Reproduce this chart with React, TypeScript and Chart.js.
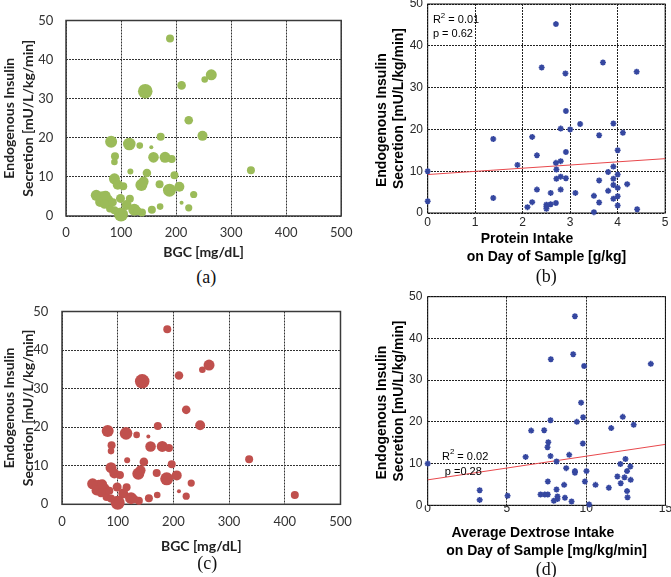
import React, { useEffect, useRef } from "react";
import { Chart, registerables } from "chart.js";
Chart.register(...registerables);

// ---------- Panel (a): BGC vs endogenous insulin secretion (bubble size = third variable)
const bgcA = [189, 144, 210, 252, 264, 223, 248, 172, 82, 115, 134, 155, 89, 88, 159, 180, 192, 336, 117, 147, 197, 88, 94, 104, 137, 141, 170, 188, 206, 232, 210, 223, 171, 156, 55, 66, 75, 62, 72, 80, 99, 116, 110, 124, 138, 100, 88, 130, 70, 85];
const secA = [45.4, 31.9, 33.4, 34.9, 36.1, 24.5, 20.5, 20.3, 19.0, 18.4, 18.0, 17.6, 15.3, 13.8, 15.0, 15.0, 14.6, 11.7, 11.4, 11.0, 10.4, 9.5, 8.0, 7.6, 7.9, 8.8, 8.1, 6.6, 7.5, 5.5, 3.4, 2.1, 2.4, 1.6, 5.3, 4.8, 4.0, 3.6, 5.2, 1.9, 4.5, 4.4, 2.8, 1.6, 0.9, 0.4, 1.5, 1.3, 3.0, 3.5];
const sizeA = [4, 7.3, 4.3, 3.3, 5.5, 4.3, 5, 4, 6, 6.3, 3.3, 2, 4, 3.3, 5.3, 5.5, 4, 4, 3, 4.3, 4, 5.5, 5, 4, 6, 5, 4, 6.5, 5, 3.6, 2, 3.6, 3.3, 4, 5.5, 6, 6, 5, 5, 4, 4.5, 4, 5, 6, 4, 7, 4, 4, 4.5, 4];

// ---------- Panel (c): same data plus one extra sample
const bgcC = [...bgcA, 418];
const secC = [...secA, 2.4];
const sizeC = [...sizeA, 4];

const bgcTicks = { min: 0, max: 500, step: 100 };
const secTicks = { min: 0, max: 50, step: 10 };

// ---------- Panel (b): protein intake
const proteinB = [2.70, 2.40, 2.90, 3.69, 4.40, 2.91, 2.80, 3.0, 3.21, 3.91, 4.11, 3.61, 1.38, 2.20, 2.30, 2.91, 4.0, 1.89, 2.70, 2.80, 2.71, 0, 3.91, 3.80, 4.0, 2.71, 2.80, 2.91, 3.61, 3.91, 4.20, 3.91, 4.0, 2.30, 2.80, 2.59, 3.11, 3.80, 3.50, 4.0, 3.91, 1.38, 0, 2.20, 2.70, 2.59, 3.61, 4.0, 2.10, 2.50, 2.50, 2.50, 3.50, 4.41];
const secB = [45.2, 34.8, 33.4, 36.0, 33.8, 24.4, 20.2, 20.0, 21.3, 21.4, 19.2, 18.6, 17.7, 18.2, 13.8, 14.6, 15.0, 11.5, 12.0, 12.4, 10.4, 10.0, 11.1, 9.8, 9.2, 8.2, 8.7, 8.3, 7.8, 8.2, 6.9, 6.7, 6.0, 5.6, 5.6, 4.8, 4.8, 5.3, 4.1, 4.0, 3.4, 3.6, 2.8, 2.6, 2.4, 2.1, 2.5, 1.8, 1.4, 2.0, 1.5, 1.0, 0.2, 0.9];
const fitBx = [0, 5];
const fitBy = [9.2, 13.0];
const proteinTicks = { min: 0, max: 5, step: 1 };

// ---------- Panel (d): average dextrose intake
const dextroseD = [9.29, 7.77, 9.18, 9.87, 14.08, 9.68, 9.81, 9.41, 7.75, 6.53, 7.35, 12.31, 13.0, 11.58, 7.61, 7.56, 9.79, 6.18, 7.75, 8.93, 8.13, 0, 12.16, 12.48, 8.74, 9.29, 9.29, 10.02, 12.58, 12.79, 11.97, 12.42, 12.81, 12.18, 7.58, 9.92, 8.61, 10.59, 11.43, 8.13, 12.58, 12.61, 3.28, 3.28, 5.04, 7.12, 7.39, 7.58, 8.19, 8.19, 7.96, 8.66, 9.08, 10.19];
const secD = [45.3, 35.0, 36.2, 33.4, 33.9, 24.6, 21.1, 20.0, 20.4, 17.9, 18.0, 21.2, 19.3, 18.5, 15.1, 13.9, 14.8, 11.6, 11.8, 12.1, 10.5, 10.0, 9.9, 11.1, 8.9, 8.2, 7.8, 8.2, 8.2, 9.3, 6.9, 6.7, 6.1, 5.3, 5.7, 5.7, 4.9, 4.9, 4.2, 3.8, 3.4, 1.9, 3.6, 1.3, 2.3, 2.6, 2.6, 2.6, 2.1, 1.5, 1.1, 1.8, 0.9, 0.2];
const fitDx = [0, 15];
const fitDy = [6.1, 14.6];
const dextroseTicks = { min: 0, max: 15, step: 5 };

const yTitleLines = ["Endogenous Insulin", "Secretion [mU/L/kg/min]"];

const ARIAL = "'Liberation Sans', Arial, sans-serif";
const CALIBRI = "Lato, 'Open Sans', sans-serif";

function pts(xs: number[], ys: number[]) {
  return xs.map((x, i) => ({ x, y: ys[i] }));
}

function framePlugin(color: string, width: number) {
  return {
    id: "frame",
    beforeDatasetsDraw(chart: any) {
      const { ctx, chartArea: a } = chart;
      ctx.save();
      ctx.strokeStyle = color;
      ctx.lineWidth = width;
      ctx.strokeRect(a.left, a.top, a.right - a.left, a.bottom - a.top);
      ctx.restore();
    },
  };
}

type Part = { text: string; sup?: boolean };
type StatItem = { x: number; y: number; parts: Part[] };

function statPlugin(items: StatItem[], size: number) {
  return {
    id: "stat",
    afterDatasetsDraw(chart: any) {
      const { ctx } = chart;
      const xs = chart.scales.x;
      const ys = chart.scales.y;
      ctx.save();
      ctx.fillStyle = "#000";
      ctx.textBaseline = "middle";
      ctx.textAlign = "left";
      for (const it of items) {
        let px = xs.getPixelForValue(it.x);
        const py = ys.getPixelForValue(it.y);
        for (const p of it.parts) {
          const s = p.sup ? size * 0.72 : size;
          ctx.font = `${s}px ${ARIAL}`;
          ctx.fillText(p.text, px, p.sup ? py - size * 0.38 : py);
          px += ctx.measureText(p.text).width;
        }
      }
      ctx.restore();
    },
  };
}

type Geo = {
  yWidth: number;
  xHeight: number;
  padTop: number;
  padRight: number;
  yTickPad: number;
  xTickPad: number;
  xTitlePadBottom: number;
};

function axisPair(
  geo: Geo,
  xr: { min: number; max: number; step: number },
  yr: { min: number; max: number; step: number },
  family: string,
  tickSize: number,
  titleSize: number,
  yTitleLH: string,
  xTitleLH: string,
  xTitle: string | string[],
  yTitle: string[],
  gridColor: string,
  tickColor: string,
  titleColor: string
) {
  return {
    x: {
      type: "linear",
      min: xr.min,
      max: xr.max,
      ticks: { stepSize: xr.step, font: { family, size: tickSize }, color: tickColor, padding: geo.xTickPad },
      grid: { color: gridColor, lineWidth: 1, drawTicks: false },
      border: { display: false, dash: [2, 1] },
      title: {
        display: true,
        text: xTitle,
        color: titleColor,
        font: { family, size: titleSize, weight: "bold", lineHeight: xTitleLH },
        padding: { top: 0, bottom: geo.xTitlePadBottom },
      },
      afterFit(s: any) {
        s.height = geo.xHeight;
      },
    },
    y: {
      type: "linear",
      min: yr.min,
      max: yr.max,
      ticks: { stepSize: yr.step, font: { family, size: tickSize }, color: tickColor, padding: geo.yTickPad },
      grid: { color: gridColor, lineWidth: 1, drawTicks: false },
      border: { display: false, dash: [2, 1] },
      title: {
        display: true,
        text: yTitle,
        color: titleColor,
        font: { family, size: titleSize, weight: "bold", lineHeight: yTitleLH },
        padding: { top: 0, bottom: 0 },
      },
      afterFit(s: any) {
        s.width = geo.yWidth;
      },
    },
  };
}

function bubbleConfig(xs: number[], ys: number[], rs: number[], color: string, geo: Geo) {
  return {
    type: "bubble",
    data: {
      datasets: [
        {
          data: xs.map((x, i) => ({ x, y: ys[i], r: rs[i] })),
          backgroundColor: color,
          borderColor: color,
          borderWidth: 0,
          clip: false,
        },
      ],
    },
    options: {
      responsive: false,
      animation: false,
      events: [],
      layout: { padding: { top: geo.padTop, right: geo.padRight, left: 0, bottom: 0 } },
      plugins: { legend: { display: false }, tooltip: { enabled: false } },
      scales: axisPair(geo, bgcTicks, secTicks, CALIBRI, 13, 14, "19px", "19px", "BGC [mg/dL]", yTitleLines, "#333", "#333", "#222"),
    },
    plugins: [framePlugin("#3a3a3a", 1.5)],
  };
}

function scatterConfig(
  xs: number[],
  ys: number[],
  fx: number[],
  fy: number[],
  xr: { min: number; max: number; step: number },
  xTitle: string[],
  xTitleLH: string,
  stats: StatItem[],
  geo: Geo
) {
  const yTitle = ["Endogenous Insulin      ", "Secretion [mU/L/kg/min]"];
  return {
    type: "scatter",
    data: {
      datasets: [
        {
          data: pts(xs, ys),
          pointStyle: "star",
          radius: 3,
          borderWidth: 1.6,
          borderColor: "#3547a0",
          backgroundColor: "#3547a0",
          clip: false,
        },
        {
          data: pts(fx, fy),
          showLine: true,
          pointRadius: 0,
          borderColor: "#e8484c",
          borderWidth: 1,
        },
      ],
    },
    options: {
      responsive: false,
      animation: false,
      events: [],
      layout: { padding: { top: geo.padTop, right: geo.padRight, left: 0, bottom: 0 } },
      plugins: { legend: { display: false }, tooltip: { enabled: false } },
      scales: axisPair(geo, xr, secTicks, ARIAL, 12, 14, "17.3px", xTitleLH, xTitle, yTitle, "#222", "#262626", "#000"),
    },
    plugins: [framePlugin("#111", 1), statPlugin(stats, 11)],
  };
}

function ChartBox(props: { left: number; top: number; width: number; height: number; make: () => any }) {
  const ref = useRef<HTMLCanvasElement>(null);
  useEffect(() => {
    const chart = new Chart(ref.current as HTMLCanvasElement, props.make());
    return () => chart.destroy();
  }, []);
  return (
    <canvas
      ref={ref}
      width={props.width}
      height={props.height}
      style={{ position: "absolute", left: props.left, top: props.top, width: props.width, height: props.height, display: "block" }}
    />
  );
}

function PanelLabel(props: { text: string; cx: number; cy: number }) {
  return (
    <div
      style={{
        position: "absolute",
        left: props.cx - 30,
        top: props.cy - 12,
        width: 60,
        height: 24,
        lineHeight: "24px",
        textAlign: "center",
        fontFamily: "'Liberation Serif', 'Times New Roman', serif",
        fontSize: 18,
        color: "#111",
      }}
    >
      {props.text}
    </div>
  );
}

const geoA: Geo = { yWidth: 66, xHeight: 48, padTop: 11, padRight: 15, yTickPad: 12.7, xTickPad: 9.5, xTitlePadBottom: 2.5 };
const geoC: Geo = { yWidth: 62, xHeight: 53.7, padTop: 11.7, padRight: 15, yTickPad: 13.7, xTickPad: 10.2, xTitlePadBottom: 1.8 };
const geoB: Geo = { yWidth: 54.7, xHeight: 55, padTop: 12, padRight: 5, yTickPad: 4.7, xTickPad: 2.5, xTitlePadBottom: 2.65 };
const geoD: Geo = { yWidth: 54.7, xHeight: 56.7, padTop: 14.7, padRight: 5, yTickPad: 5.4, xTickPad: -4.2, xTitlePadBottom: 2.3 };

export default function App() {
  return (
    <div style={{ position: "absolute", left: 0, top: 0, width: 671, height: 577, overflow: "hidden", background: "#fff" }}>
      <ChartBox left={0} top={0} width={362} height={264} make={() => bubbleConfig(bgcA, secA, sizeA, "#9bbb59", geoA)} />
      <ChartBox
        left={373}
        top={-8}
        width={298}
        height={276}
        make={() =>
          scatterConfig(
            proteinB,
            secB,
            fitBx,
            fitBy,
            proteinTicks,
            ["Protein Intake          ", "on Day of Sample [g/kg]"],
            "17.3px",
            [
              { x: 0.11, y: 46.2, parts: [{ text: "R" }, { text: "2", sup: true }, { text: " = 0.01" }] },
              { x: 0.11, y: 42.9, parts: [{ text: "p = 0.62" }] },
            ],
            geoB
          )
        }
      />
      <ChartBox left={0} top={290} width={362} height={268} make={() => bubbleConfig(bgcC, secC, sizeC, "#c0504d", geoC)} />
      <ChartBox
        left={373}
        top={282}
        width={298}
        height={280}
        make={() =>
          scatterConfig(
            dextroseD,
            secD,
            fitDx,
            fitDy,
            dextroseTicks,
            ["Average Dextrose Intake       ", "on Day of Sample [mg/kg/min]"],
            "18px",
            [
              { x: 0.9, y: 11.7, parts: [{ text: "R" }, { text: "2", sup: true }, { text: " = 0.02" }] },
              { x: 1.08, y: 8.1, parts: [{ text: "p =0.28" }] },
            ],
            geoD
          )
        }
      />
      <PanelLabel text="(a)" cx={206.3} cy={277} />
      <PanelLabel text="(b)" cx={546.3} cy={276} />
      <PanelLabel text="(c)" cx={207.3} cy={563.3} />
      <PanelLabel text="(d)" cx={546.3} cy={568.5} />
    </div>
  );
}
